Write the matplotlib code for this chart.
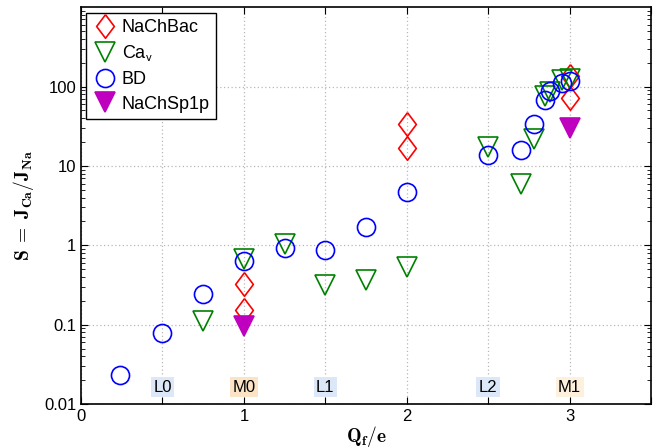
import numpy as np
import matplotlib.pyplot as plt

plt.rcParams['font.family'] = ['Liberation Sans', 'DejaVu Sans']
plt.rcParams['mathtext.fontset'] = 'cm'

# selectivity S = J_Ca / J_Na against fixed charge Q_f/e
q_bac = [1.0, 1.0, 2.0, 2.0, 3.0, 3.0]
s_bac = [0.33, 0.155, 34.0, 16.7, 134.0, 71.0]

q_cav = [0.75, 1.0, 1.25, 1.5, 1.75, 2.0, 2.5, 2.7, 2.78, 2.85, 2.88, 2.95, 3.0]
s_cav = [0.11, 0.68, 1.05, 0.32, 0.37, 0.54, 17.5, 6.0, 22.0, 75.0, 85.0, 120.0, 125.0]

q_bd = [0.24, 0.5, 0.75, 1.0, 1.25, 1.5, 1.75, 2.0, 2.5, 2.7, 2.78, 2.85, 2.88, 2.95, 3.0]
s_bd = [0.023, 0.078, 0.245, 0.64, 0.92, 0.87, 1.7, 4.7, 13.8, 16.0, 34.0, 68.0, 88.0, 110.0, 118.0]

q_sp = [1.0, 3.0]
s_sp = [0.097, 30.0]

band_names = ['L0', 'M0', 'L1', 'L2', 'M1']
band_q = [0.5, 1.0, 1.5, 2.5, 3.0]
band_colors = ['#dce8f8', '#fbe4c6', '#dce8f8', '#dce8f8', '#fdf0dc']

diamond = [(0, 1), (0.75, 0), (0, -1), (-0.75, 0), (0, 1)]

fig = plt.figure(figsize=(6.59, 4.48), dpi=100)
ax = fig.add_axes([0.123, 0.098, 0.865, 0.886])

ax.plot(q_bac, s_bac, linestyle='none', marker=diamond, ms=17, mfc='none',
        mec='red', mew=1.2, label='NaChBac')
ax.plot(q_cav, s_cav, linestyle='none', marker='v', ms=14, mfc='none',
        mec='green', mew=1.2, label=r'Ca$_{\mathsf{v}}$')
ax.plot(q_bd, s_bd, linestyle='none', marker='o', ms=13, mfc='none',
        mec='blue', mew=1.2, label='BD')
ax.plot(q_sp, s_sp, linestyle='none', marker='v', ms=14, mfc='#bf00bf',
        mec='#bf00bf', mew=1.2, label='NaChSp1p')

for name, q, c in zip(band_names, band_q, band_colors):
    ax.text(q, 0.0162, name, ha='center', va='center', fontsize=12,
            bbox=dict(boxstyle='square,pad=0.15', fc=c, ec='none'))

ax.set_yscale('log')
ax.set_xlim(0, 3.5)
ax.set_ylim(0.01, 1000)
ax.set_xticks(np.arange(0, 3.51, 0.5))
ax.set_xticklabels(['0', '', '1', '', '2', '', '3', ''])
ax.set_yticks([0.01, 0.1, 1, 10, 100])
ax.set_yticklabels(['0.01', '0.1', '1', '10', '100'])
ax.tick_params(which='both', direction='in', top=True, right=True, labelsize=12)
ax.tick_params(which='major', length=5)
ax.tick_params(which='minor', length=3)
ax.grid(True, which='major', linestyle=(0, (1, 2)), color='#b8b8b8', linewidth=0.9)
ax.set_axisbelow(True)
for sp in ax.spines.values():
    sp.set_linewidth(1.2)

ax.set_xlabel(r'$\mathbf{Q_f/e}$', fontsize=14, labelpad=0)
ax.set_ylabel(r'$\mathbf{S}\;=\;\mathbf{J_{Ca}/J_{Na}}$', fontsize=14, labelpad=6)

leg = ax.legend(loc='upper left', fontsize=13, frameon=True, fancybox=False,
                edgecolor='black', framealpha=1, handletextpad=0.2,
                borderpad=0.35, labelspacing=0.42, borderaxespad=0.3,
                handlelength=1.4)
leg.get_frame().set_linewidth(1.0)

fig.savefig('out.png', dpi=100)
